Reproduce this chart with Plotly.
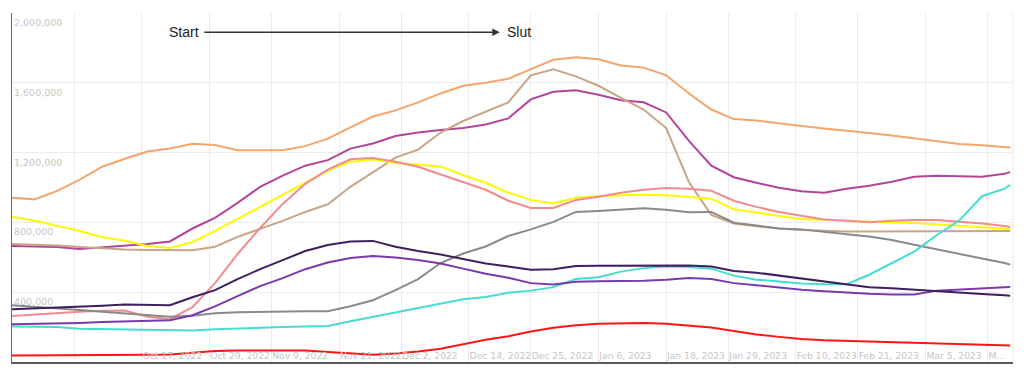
import plotly.graph_objects as go

dates = ["2022-09-24", "2022-09-28", "2022-10-02", "2022-10-06", "2022-10-10", "2022-10-14",
         "2022-10-18", "2022-10-22", "2022-10-26", "2022-10-30", "2022-11-03", "2022-11-07",
         "2022-11-11", "2022-11-15", "2022-11-19", "2022-11-23", "2022-11-27", "2022-12-01",
         "2022-12-05", "2022-12-09", "2022-12-13", "2022-12-17", "2022-12-21", "2022-12-25",
         "2022-12-29", "2023-01-02", "2023-01-06", "2023-01-10", "2023-01-14", "2023-01-18",
         "2023-01-22", "2023-01-26", "2023-01-30", "2023-02-03", "2023-02-07", "2023-02-11",
         "2023-02-15", "2023-02-19", "2023-02-23", "2023-02-27", "2023-03-03", "2023-03-07",
         "2023-03-11", "2023-03-15", "2023-03-19", "2023-03-20"]

orange = [941000, 932000, 981000, 1045000, 1119000, 1165000, 1206000, 1223000, 1251000, 1243000,
          1214000, 1214000, 1214000, 1237000, 1280000, 1344000, 1407000, 1442000, 1488000, 1539000,
          1583000, 1600000, 1623000, 1678000, 1732000, 1747000, 1735000, 1699000, 1687000, 1643000,
          1540000, 1447000, 1392000, 1384000, 1367000, 1352000, 1338000, 1327000, 1312000, 1298000,
          1281000, 1263000, 1249000, 1242000, 1232000, 1229000]
magenta = [665000, 663000, 659000, 647000, 657000, 668000, 676000, 691000, 765000, 826000,
           912000, 1004000, 1068000, 1125000, 1157000, 1223000, 1252000, 1295000, 1315000, 1329000,
           1341000, 1361000, 1396000, 1505000, 1549000, 1557000, 1531000, 1500000, 1488000, 1430000,
           1269000, 1125000, 1059000, 1027000, 998000, 978000, 970000, 993000, 1010000, 1033000,
           1062000, 1068000, 1065000, 1062000, 1079000, 1088000]
tan = [676000, 672000, 668000, 659000, 650000, 645000, 642000, 639000, 640000, 661000,
       717000, 763000, 809000, 860000, 904000, 1004000, 1085000, 1171000, 1217000, 1315000,
       1381000, 1436000, 1488000, 1643000, 1678000, 1637000, 1583000, 1514000, 1447000, 1341000,
       1033000, 843000, 794000, 778000, 765000, 757000, 751000, 748000, 748000, 748000,
       749000, 750000, 750000, 751000, 751000, 751000]
yellow = [832000, 809000, 780000, 751000, 715000, 696000, 665000, 653000, 688000, 751000,
          820000, 889000, 955000, 1027000, 1096000, 1148000, 1160000, 1141000, 1131000, 1121000,
          1070000, 1027000, 970000, 929000, 909000, 941000, 952000, 956000, 958000, 955000,
          947000, 935000, 875000, 855000, 837000, 820000, 814000, 809000, 803000, 800000,
          797000, 788000, 781000, 774000, 765000, 762000]
pink = [264000, 273000, 279000, 288000, 293000, 295000, 259000, 245000, 314000, 452000,
        619000, 768000, 906000, 1021000, 1102000, 1162000, 1169000, 1148000, 1119000, 1076000,
        1033000, 987000, 924000, 883000, 883000, 929000, 947000, 970000, 987000, 997000,
        993000, 981000, 924000, 889000, 860000, 837000, 817000, 809000, 801000, 809000,
        814000, 814000, 806000, 794000, 780000, 774000]
dark_purple = [302000, 306000, 311000, 317000, 322000, 329000, 325000, 325000, 371000, 412000,
               475000, 532000, 584000, 636000, 670000, 691000, 694000, 661000, 636000, 616000,
               590000, 564000, 547000, 529000, 532000, 550000, 551000, 551000, 553000, 550000,
               553000, 547000, 521000, 512000, 495000, 478000, 460000, 443000, 429000, 423000,
               414000, 406000, 398000, 390000, 383000, 380000]
purple = [216000, 218000, 222000, 224000, 229000, 233000, 236000, 239000, 268000, 319000,
          377000, 435000, 481000, 532000, 570000, 596000, 607000, 599000, 584000, 565000,
          535000, 506000, 483000, 452000, 444000, 460000, 463000, 464000, 466000, 472000,
          481000, 475000, 452000, 440000, 426000, 414000, 406000, 397000, 391000, 387000,
          387000, 409000, 417000, 423000, 429000, 430000]
gray = [325000, 317000, 308000, 298000, 288000, 279000, 266000, 259000, 265000, 279000,
        285000, 288000, 289000, 291000, 291000, 319000, 354000, 412000, 475000, 567000,
        622000, 662000, 722000, 760000, 803000, 860000, 866000, 875000, 881000, 873000,
        858000, 860000, 798000, 782000, 765000, 760000, 748000, 732000, 719000, 699000,
        672000, 645000, 616000, 593000, 567000, 558000]
turquoise = [204000, 204000, 201000, 191000, 189000, 187000, 183000, 180000, 181000, 187000,
             193000, 196000, 200000, 204000, 207000, 233000, 259000, 282000, 311000, 337000,
             360000, 373000, 397000, 409000, 429000, 475000, 486000, 518000, 538000, 547000,
             544000, 535000, 495000, 472000, 460000, 450000, 446000, 446000, 500000, 567000,
             633000, 728000, 812000, 950000, 993000, 1016000]
red = [37000, 37000, 37000, 37000, 37000, 40000, 41000, 43000, 52000, 63000,
       66000, 66000, 66000, 66000, 57000, 49000, 42000, 49000, 60000, 76000,
       101000, 127000, 147000, 175000, 196000, 210000, 219000, 223000, 223000, 219000,
       210000, 198000, 178000, 158000, 144000, 132000, 125000, 121000, 118000, 115000,
       112000, 108000, 105000, 101000, 97000, 95000]

tick_dates = ["2022-10-05", "2022-10-17", "2022-10-29", "2022-11-09", "2022-11-21", "2022-12-02",
              "2022-12-14", "2022-12-25", "2023-01-06", "2023-01-18", "2023-01-29", "2023-02-10",
              "2023-02-21", "2023-03-05", "2023-03-16"]
tick_labels = ["", "Oct 17, 2022", "Oct 29, 2022", "Nov 9, 2022", "Nov 21, 2022", "Dec 2, 2022",
               "Dec 14, 2022", "Dec 25, 2022", "Jan 6, 2023", "Jan 18, 2023", "Jan 29, 2023",
               "Feb 10, 2023", "Feb 21, 2023", "Mar 5, 2023", "M..."]
y_ticks = [400000, 800000, 1200000, 1600000, 2000000]

series = [
    ("Orange", orange, "#f4a56c"),
    ("Magenta", magenta, "#b2449c"),
    ("Tan", tan, "#c9a584"),
    ("Yellow", yellow, "#fbfb00"),
    ("Pink", pink, "#f28b8f"),
    ("Gray", gray, "#8a8a8a"),
    ("Turquoise", turquoise, "#45ddcf"),
    ("Purple", purple, "#7b39ab"),
    ("Dark purple", dark_purple, "#3e1f5e"),
    ("Red", red, "#ff1414"),
]

fig = go.Figure()
for name, vals, col in series:
    fig.add_trace(go.Scatter(x=dates, y=vals, name=name, mode="lines",
                             line=dict(color=col, width=2)))

grid = "#ececec"
y_font = dict(family="DejaVu Sans", size=9.5, color="#c6c6c6")
x_font = dict(family="DejaVu Sans", size=9.2, color="#c6c6c6")

fig.update_xaxes(type="date", range=["2022-09-24", "2023-03-20 12:00"],
                 tickvals=tick_dates, ticktext=tick_labels, ticklabelposition="inside right",
                 tickangle=0, ticklabelstandoff=-3, tickfont=x_font,
                 showgrid=True, gridcolor=grid, gridwidth=1,
                 showline=True, linecolor="#5a5a5a", linewidth=1.6, ticks="", zeroline=False)
fig.update_yaxes(range=[0, 2000000], tickvals=y_ticks, tickformat=",d",
                 ticklabelposition="inside bottom", ticklabelshift=3, tickfont=y_font,
                 showgrid=True, gridcolor=grid, gridwidth=1,
                 showline=True, linecolor="#6a6a6a", linewidth=1.4, ticks="", zeroline=False)

fig.add_shape(type="line", xref="paper", yref="paper", x0=1, x1=1, y0=0, y1=1,
              line=dict(color=grid, width=1), layer="below")

ann_font = dict(family="Liberation Sans", size=14, color="#222222")
fig.add_annotation(x="2022-12-19 12:00", y=1890000, xref="x", yref="y",
                   text="Start", showarrow=True, ax=-316, ay=0, axref="pixel", ayref="pixel",
                   arrowhead=2, arrowsize=1, arrowwidth=1.5, arrowcolor="#333333",
                   standoff=0, startstandoff=4, font=ann_font)
fig.add_annotation(x="2022-12-20 12:00", y=1890000, xref="x", yref="y", text="Slut",
                   showarrow=False, xanchor="left", font=ann_font)

fig.update_layout(width=1024, height=374, showlegend=False,
                  margin=dict(l=12, r=11, t=13, b=12, autoexpand=False),
                  paper_bgcolor="white", plot_bgcolor="white",
                  font=dict(family="DejaVu Sans"))

fig.write_html("out.html", config={"displayModeBar": False},
               post_script="document.body.style.margin='0';")
